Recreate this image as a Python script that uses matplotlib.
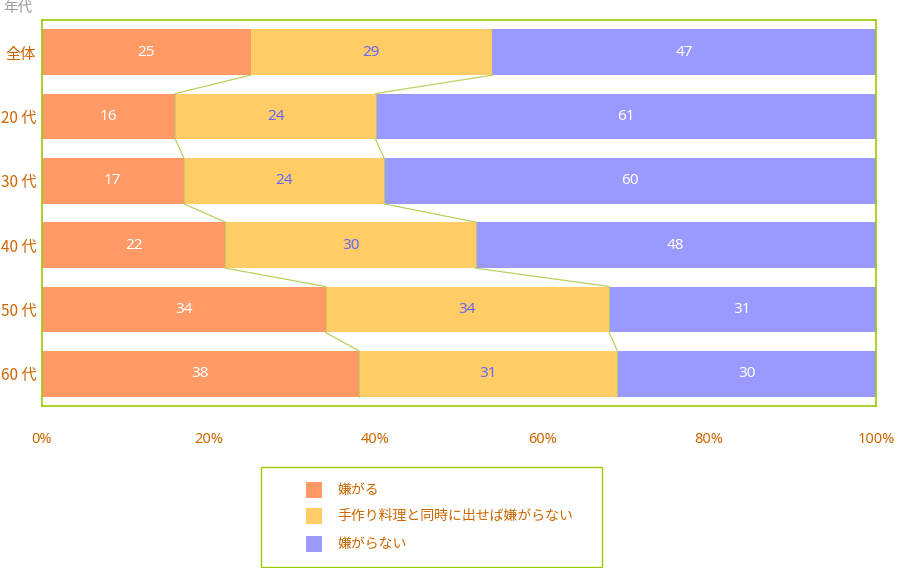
import matplotlib
matplotlib.use("Agg")
import matplotlib.pyplot as plt
from matplotlib.patches import Rectangle

plt.rcParams['font.family'] = ['Noto Sans CJK JP', 'DejaVu Sans']

categories = ["全体", "20 代", "30 代", "40 代", "50 代", "60 代"]
dislike = [25, 16, 17, 22, 34, 38]
ok_if_homemade = [29, 24, 24, 30, 34, 31]
no_dislike = [47, 61, 60, 48, 31, 30]
series_names = ["嫌がる", "手作り料理と同時に出せば嫌がらない", "嫌がらない"]
xticks = [0, 20, 40, 60, 80, 100]
xticklabels = ["0%", "20%", "40%", "60%", "80%", "100%"]

colors = ["#FF9966", "#FFCC66", "#9999FF"]
text_colors = ["white", "#6666FF", "white"]
label_col = "#CC6600"
frame_col = "#99CC00"
link_col = "#BBD060"

W, H = 897, 568
fig = plt.figure(figsize=(W / 100, H / 100), dpi=100)
ax = fig.add_axes([42 / W, 1 - 406 / H, 834 / W, 386 / H])

n = len(categories)
ys = list(range(n))
bh = 0.715
lefts2 = [a for a in dislike]
lefts3 = [a + b for a, b in zip(dislike, ok_if_homemade)]
widths3 = [100 - l for l in lefts3]

ax.barh(ys, dislike, height=bh, color=colors[0], edgecolor="none")
ax.barh(ys, ok_if_homemade, left=lefts2, height=bh, color=colors[1], edgecolor="none")
ax.barh(ys, widths3, left=lefts3, height=bh, color=colors[2], edgecolor="none")

for i in range(n):
    segs = [(0, dislike[i], dislike[i]),
            (lefts2[i], ok_if_homemade[i], ok_if_homemade[i]),
            (lefts3[i], widths3[i], no_dislike[i])]
    for k, (l, w, v) in enumerate(segs):
        ax.text(l + w / 2, i, str(v), ha="center", va="center",
                color=text_colors[k], fontsize=11, family=['Noto Sans', 'DejaVu Sans'])

# connecting lines
for i in range(n - 1):
    for b in (lefts2, lefts3):
        ax.plot([b[i], b[i + 1]], [i + bh / 2, i + 1 - bh / 2], color=link_col, lw=0.9)
        ax.plot([b[i + 1], b[i + 1]], [i + 1 - bh / 2, i + 1 + bh / 2], color=link_col, lw=0.6)

ax.set_xlim(0, 100)
ax.set_ylim(n - 0.5, -0.5)
ax.set_yticks(ys)
ax.set_yticklabels(categories, color=label_col, fontsize=11)
ax.set_xticks(xticks)
ax.set_xticklabels(xticklabels, color=label_col, fontsize=10.5, family=['Noto Sans', 'DejaVu Sans'])
ax.tick_params(axis="both", length=0)
ax.tick_params(axis="x", pad=19)
ax.tick_params(axis="y", pad=4)
for s in ax.spines.values():
    s.set_color(frame_col)
    s.set_linewidth(1.2)

fig.text(3 / W, 1 - 8 / H, "年代", color="#A09898", fontsize=10.5, va="center", ha="left")

# legend box
fig.patches.append(Rectangle((261 / W, 1 - 567 / H), 341 / W, 100 / H, transform=fig.transFigure,
                             facecolor="white", edgecolor=frame_col, lw=1.0))
leg_y = [490, 516, 544]
for k in range(3):
    fig.patches.append(Rectangle((306 / W, 1 - (leg_y[k] + 8) / H), 16 / W, 16 / H,
                                 transform=fig.transFigure, facecolor=colors[k], edgecolor="none"))
    fig.text(337 / W, 1 - leg_y[k] / H, series_names[k], color=label_col, fontsize=10,
             va="center", ha="left")

fig.savefig("out.png", dpi=100)
